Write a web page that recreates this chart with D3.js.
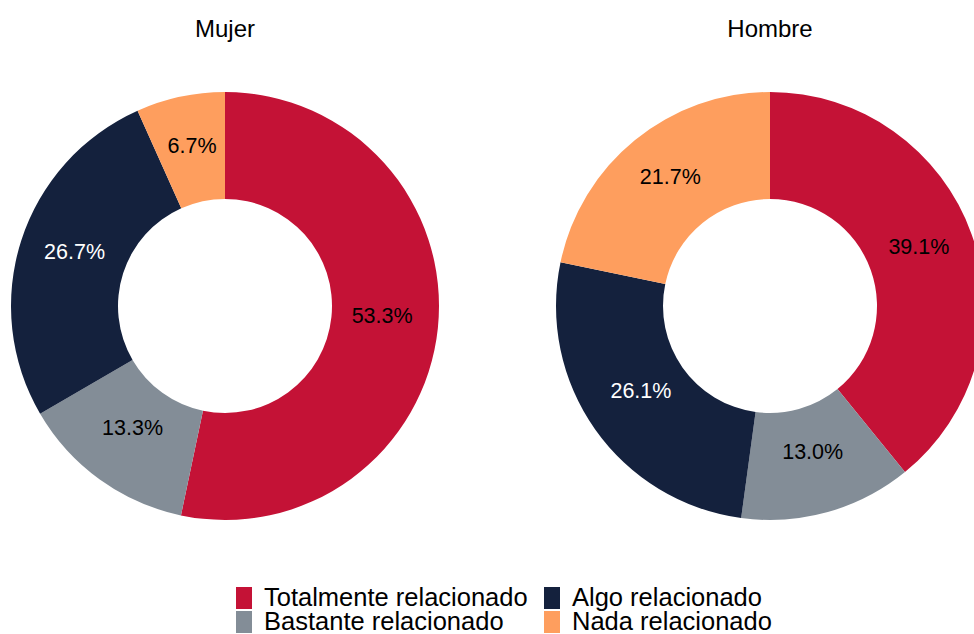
<!DOCTYPE html>
<html><head><meta charset="utf-8">
<script src="https://cdn.jsdelivr.net/npm/d3@7"></script>
<style>body{margin:0;background:#fff}svg{display:block}text{font-family:"Liberation Sans",Arial,sans-serif}</style>
</head><body>
<script>
const categories = ["Totalmente relacionado","Bastante relacionado","Algo relacionado","Nada relacionado"];
const groups = ["Mujer","Hombre"];
const mujerValues = [53.3, 13.3, 26.7, 6.7];
const hombreValues = [39.1, 13.0, 26.1, 21.7];
const colors = ["#C41236","#838D97","#14213D","#FE9E5E"];
const labelColors = ["#000","#000","#fff","#000"];
const legendOrder = [0,2,1,3];

const W=974,H=634;
const svg=d3.select("body").append("svg").attr("width",W).attr("height",H);
const cx=d3.scalePoint().domain(groups).range([225,770]);
const cy=306, R=214, r0=107;
const pie=d3.pie().sort(null).value(d=>d);
const arc=d3.arc().innerRadius(r0).outerRadius(R);
const labelArc=d3.arc().innerRadius(158).outerRadius(158);
const seriesList=[mujerValues,hombreValues];
groups.forEach((g,gi)=>{
  const gg=svg.append("g").attr("transform",`translate(${cx(g)},${cy})`);
  const arcs=pie(seriesList[gi]);
  gg.selectAll("path").data(arcs).join("path").attr("d",arc).attr("fill",(d,i)=>colors[i]);
  gg.selectAll("text").data(arcs).join("text")
    .attr("transform",d=>`translate(${labelArc.centroid(d)})`)
    .attr("text-anchor","middle").attr("dy","0.05em")
    .attr("font-size",21.5).attr("fill",(d,i)=>labelColors[i])
    .text(d=>d.data.toFixed(1)+"%");
  svg.append("text").attr("x",cx(g)).attr("y",37).attr("text-anchor","middle")
    .attr("font-size",24).attr("fill","#000").text(g);
});
// legend
const lg=svg.append("g");
const colX=[236,544], rowY=[587,611];
legendOrder.forEach((ci,k)=>{
  const col=k%2, row=Math.floor(k/2);
  lg.append("rect").attr("x",colX[col]).attr("y",rowY[row]).attr("width",16).attr("height",22).attr("fill",colors[ci]);
  lg.append("text").attr("x",colX[col]+28).attr("y",rowY[row]+19).attr("font-size",25.5).attr("fill","#000").text(categories[ci]);
});
</script>
</body></html>
